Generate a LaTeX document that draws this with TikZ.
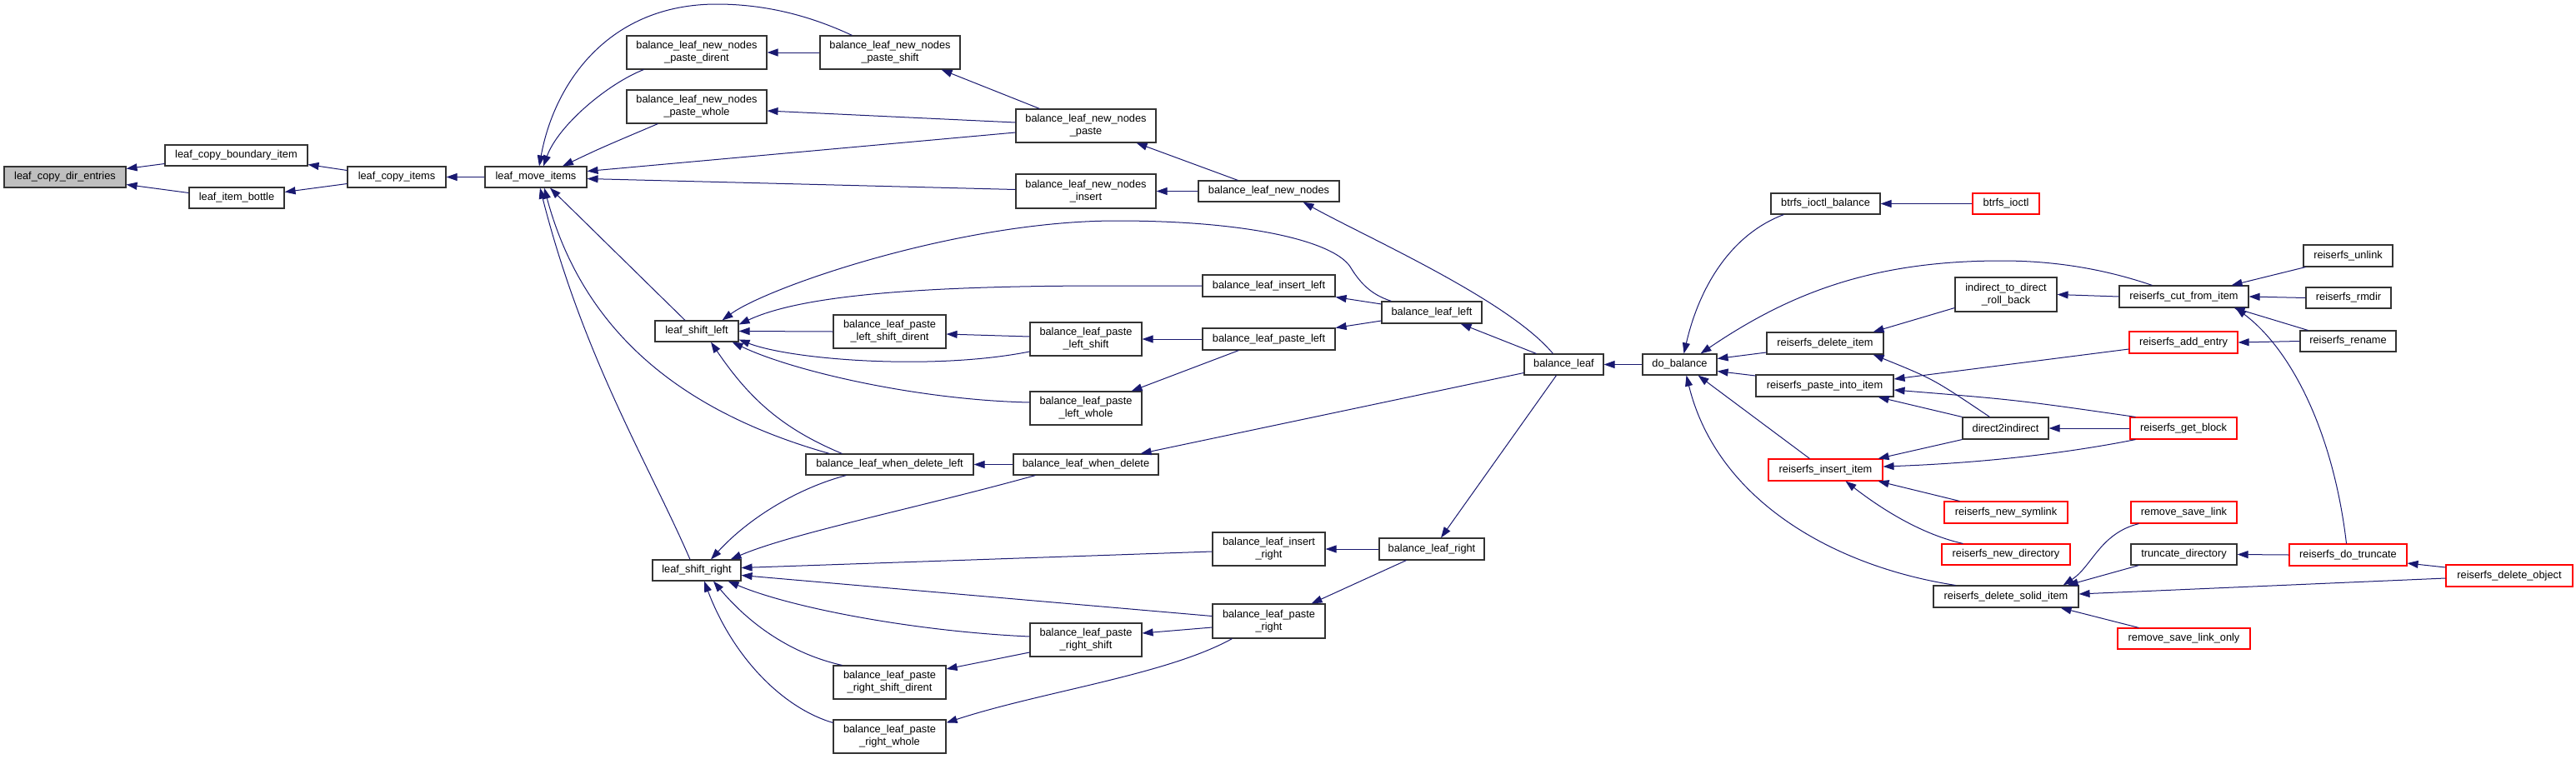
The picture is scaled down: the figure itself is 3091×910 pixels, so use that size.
\documentclass[tikz,border=0pt]{standalone}
\usepackage{fontspec}
\setmainfont{Liberation Sans}
\usetikzlibrary{arrows.meta}
\definecolor{edgecol}{RGB}{25,25,112}
\definecolor{rootfill}{RGB}{191,191,191}
\begin{document}
\begin{tikzpicture}[x=1pt,y=-1pt,
  fn/.style={draw=black!80, line width=1.1pt, fill=white, inner sep=0pt, align=center,
    font=\fontsize{12.8}{15}\selectfont},
  fnred/.style={fn, draw=red},
  wh/.style 2 args={minimum width=#1pt, minimum height=#2pt},
  edge/.style={draw=edgecol, line width=1pt, {Triangle[length=13pt,width=9pt]}-}]
\useasboundingbox (0,0) rectangle (3091,910);
% ---------- nodes ----------
\node[fn, fill=rootfill, wh={146}{25}] (lcde) at (78,212.5) {leaf\_copy\_dir\_entries};
\node[fn, wh={171}{25}] (lcbi) at (283.5,186.5) {leaf\_copy\_boundary\_item};
\node[fn, wh={114}{25}] (lib) at (284,237.5) {leaf\_item\_bottle};
\node[fn, wh={118}{25}] (lci) at (476,212.5) {leaf\_copy\_items};
\node[fn, wh={122}{25}] (lmi) at (643,212.5) {leaf\_move\_items};
\node[fn, wh={168}{40}] (bpd) at (836,63) {balance\_leaf\_new\_nodes\\\_paste\_dirent};
\node[fn, wh={168}{40}] (bps) at (1068,63) {balance\_leaf\_new\_nodes\\\_paste\_shift};
\node[fn, wh={168}{40}] (bpw) at (836,128) {balance\_leaf\_new\_nodes\\\_paste\_whole};
\node[fn, wh={168}{40}] (bp) at (1303,151) {balance\_leaf\_new\_nodes\\\_paste};
\node[fn, wh={168}{41}] (bni) at (1303,229.5) {balance\_leaf\_new\_nodes\\\_insert};
\node[fn, wh={169}{25}] (bnn) at (1522.5,229.5) {balance\_leaf\_new\_nodes};
\node[fn, wh={100}{25}] (lsl) at (836,397.5) {leaf\_shift\_left};
\node[fn, wh={135}{40}] (plsd) at (1067.5,398) {balance\_leaf\_paste\\\_left\_shift\_dirent};
\node[fn, wh={134}{40}] (pls) at (1303,407) {balance\_leaf\_paste\\\_left\_shift};
\node[fn, wh={159}{26}] (bil) at (1522.5,343) {balance\_leaf\_insert\_left};
\node[fn, wh={159}{26}] (bpl) at (1522.5,407) {balance\_leaf\_paste\_left};
\node[fn, wh={134}{40}] (plw) at (1303,490) {balance\_leaf\_paste\\\_left\_whole};
\node[fn, wh={201}{25}] (wdl) at (1067.5,557.5) {balance\_leaf\_when\_delete\_left};
\node[fn, wh={174}{25}] (wd) at (1303,557.5) {balance\_leaf\_when\_delete};
\node[fn, wh={106}{25}] (lsr) at (836,684.5) {leaf\_shift\_right};
\node[fn, wh={134}{40}] (prs) at (1303,768) {balance\_leaf\_paste\\\_right\_shift};
\node[fn, wh={135}{40}] (prsd) at (1067.5,819) {balance\_leaf\_paste\\\_right\_shift\_dirent};
\node[fn, wh={135}{40}] (prw) at (1067.5,884) {balance\_leaf\_paste\\\_right\_whole};
\node[fn, wh={135}{40}] (bir) at (1522.5,659) {balance\_leaf\_insert\\\_right};
\node[fn, wh={135}{41}] (bpr) at (1522.5,745.5) {balance\_leaf\_paste\\\_right};
\node[fn, wh={126}{26}] (blr) at (1718,659) {balance\_leaf\_right};
\node[fn, wh={120}{26}] (bll) at (1718,375) {balance\_leaf\_left};
\node[fn, wh={95}{25}] (bl) at (1876.5,437.5) {balance\_leaf};
\node[fn, wh={89}{25}] (db) at (2015.5,437.5) {do\_balance};
\node[fn, wh={131}{25}] (bib) at (2190.5,244.5) {btrfs\_ioctl\_balance};
\node[fnred, wh={80}{25}] (bi) at (2407,244.5) {btrfs\_ioctl};
\node[fn, wh={122}{41}] (itd) at (2407,353.5) {indirect\_to\_direct\\\_roll\_back};
\node[fn, wh={140}{26}] (rdi) at (2190,412) {reiserfs\_delete\_item};
\node[fn, wh={165}{26}] (rpi) at (2189.5,463) {reiserfs\_paste\_into\_item};
\node[fn, wh={103}{26}] (d2i) at (2406.5,514) {direct2indirect};
\node[fnred, wh={137}{26}] (rii) at (2190.5,564) {reiserfs\_insert\_item};
\node[fnred, wh={148}{26}] (rns) at (2407,615) {reiserfs\_new\_symlink};
\node[fnred, wh={154}{25}] (rnd) at (2407,665.5) {reiserfs\_new\_directory};
\node[fn, wh={174}{26}] (rdsi) at (2407,716) {reiserfs\_delete\_solid\_item};
\node[fn, wh={155}{26}] (rcfi) at (2620.5,356) {reiserfs\_cut\_from\_item};
\node[fn, wh={107}{26}] (rul) at (2817.5,307) {reiserfs\_unlink};
\node[fn, wh={102}{25}] (rrm) at (2818,357.5) {reiserfs\_rmdir};
\node[fn, wh={115}{25}] (rrn) at (2817.5,409.5) {reiserfs\_rename};
\node[fnred, wh={130}{26}] (rae) at (2620,411) {reiserfs\_add\_entry};
\node[fnred, wh={128}{26}] (rgb) at (2620,514) {reiserfs\_get\_block};
\node[fnred, wh={127}{26}] (rsl) at (2620.5,615) {remove\_save\_link};
\node[fn, wh={127}{25}] (td) at (2620.5,665.5) {truncate\_directory};
\node[fnred, wh={141}{26}] (rdt) at (2817.5,666) {reiserfs\_do\_truncate};
\node[fnred, wh={152}{26}] (rdo) at (3011,691) {reiserfs\_delete\_object};
\node[fnred, wh={159}{25}] (rslo) at (2620.5,766.5) {remove\_save\_link\_only};
% ---------- edges ----------
\draw[edge] ([shift={(0,-10)}]lcde.east) -- ([shift={(0,10)}]lcbi.west);
\draw[edge] ([shift={(0,9)}]lcde.east) -- ([shift={(0,-6)}]lib.west);
\draw[edge] ([shift={(0,11)}]lcbi.east) -- ([shift={(0,-8)}]lci.west);
\draw[edge] ([shift={(0,-7)}]lib.east) -- ([shift={(0,8)}]lci.west);
\draw[edge] (lci.east) -- (lmi.west);
\draw[edge] ([shift={(9,0)}]lmi.north) .. controls (670,150) and (730,100) .. ([shift={(21,0)}]bpd.south west);
\draw[edge] ([shift={(4,0)}]lmi.north) .. controls (665,100) and (730,5) .. (860,5) .. controls (930,5) and (985,25) .. ([shift={(39,0)}]bps.north west);
\draw[edge] ([shift={(32,0)}]lmi.north) .. controls (720,178) .. ([shift={(38,0)}]bpw.south west);
\draw[edge] ([shift={(0,-7)}]lmi.east) -- ([shift={(0,8)}]bp.west);
\draw[edge] ([shift={(0,2)}]lmi.east) -- ([shift={(0,-2)}]bni.west);
\draw[edge] ([shift={(17,0)}]lmi.south) -- ([shift={(-14,0)}]lsl.north);
\draw[edge] ([shift={(5,0)}]lmi.south) .. controls (700,430) and (780,560) .. ([shift={(-8,0)}]lsr.north);
\draw[edge] ([shift={(10,0)}]lmi.south) .. controls (700,400) and (820,495) .. ([shift={(29,0)}]wdl.north west);
\draw[edge] (bpd.east) -- (bps.west);
\draw[edge] ([shift={(-23,0)}]bps.south east) -- ([shift={(29,0)}]bp.north west);
\draw[edge] ([shift={(0,5)}]bpw.east) -- ([shift={(0,-4)}]bp.west);
\draw[edge] ([shift={(-24,0)}]bp.south east) -- ([shift={(48,0)}]bnn.north west);
\draw[edge] (bni.east) -- (bnn.west);
\draw[edge] ([shift={(-44,0)}]bnn.south east) .. controls (1640,285) and (1810,360) .. ([shift={(35,0)}]bl.north west);
\draw[edge] ([shift={(-20,0)}]lsl.north east) .. controls (920,345) and (1150,265) .. (1340,265) .. controls (1500,265) and (1600,290) .. (1620,320) .. controls (1635,345) and (1650,355) .. ([shift={(12,0)}]bll.north west);
\draw[edge] ([shift={(0,-8)}]lsl.east) .. controls (960,355) and (1100,343) .. (1330,343) -- (bil.west);
\draw[edge] (lsl.east) -- (plsd.west);
\draw[edge] ([shift={(0,-3)}]lsl.south east) .. controls (950,432) and (1120,445) .. ([shift={(0,15)}]pls.west);
\draw[edge] ([shift={(-8,0)}]lsl.south east) .. controls (950,445) and (1100,480) .. ([shift={(0,-7)}]plw.west);
\draw[edge] ([shift={(17,0)}]lsl.south) .. controls (900,480) and (940,515) .. ([shift={(44,0)}]wdl.north west);
\draw[edge] ([shift={(0,3)}]plsd.east) -- ([shift={(0,-3)}]pls.west);
\draw[edge] (pls.east) -- (bpl.west);
\draw[edge] ([shift={(-13,0)}]plw.north east) -- ([shift={(44,0)}]bpl.south west);
\draw[edge] (bil.south east) -- ([shift={(0,-10)}]bll.west);
\draw[edge] (bpl.north east) -- ([shift={(0,10)}]bll.west);
\draw[edge] ([shift={(-26,0)}]bll.south east) -- ([shift={(15,0)}]bl.north west);
\draw[edge] (wdl.east) -- (wd.west);
\draw[edge] ([shift={(-22,0)}]wd.north east) -- ([shift={(0,10)}]bl.west);
\draw[edge] ([shift={(17,0)}]lsr.north) .. controls (900,620) and (960,585) .. ([shift={(49,0)}]wdl.south west);
\draw[edge] ([shift={(-13,0)}]lsr.north east) .. controls (950,640) and (1100,610) .. ([shift={(27,0)}]wd.south west);
\draw[edge] ([shift={(0,-3)}]lsr.east) -- ([shift={(0,3)}]bir.west);
\draw[edge] ([shift={(0,6)}]lsr.east) -- ([shift={(0,-6)}]bpr.west);
\draw[edge] ([shift={(-16,0)}]lsr.south east) .. controls (950,730) and (1100,758) .. ([shift={(0,-4)}]prs.west);
\draw[edge] ([shift={(20,0)}]lsr.south) .. controls (900,750) and (950,785) .. ([shift={(11,0)}]prsd.north west);
\draw[edge] ([shift={(9,0)}]lsr.south) .. controls (880,790) and (940,850) .. ([shift={(0,4)}]prw.north west);
\draw[edge] ([shift={(0,-16)}]prsd.east) -- ([shift={(0,15)}]prs.west);
\draw[edge] ([shift={(0,-8)}]prs.east) -- ([shift={(0,7.5)}]bpr.west);
\draw[edge] ([shift={(0,4)}]prw.north east) .. controls (1250,830) and (1400,810) .. ([shift={(24,0)}]bpr.south west);
\draw[edge] (bir.east) -- (blr.west);
\draw[edge] ([shift={(-17,0)}]bpr.north east) -- ([shift={(33,0)}]blr.south west);
\draw[edge] ([shift={(11,0)}]blr.north) -- ([shift={(-9,0)}]bl.south);
\draw[edge] (bl.east) -- (db.west);
\draw[edge] ([shift={(5,0)}]db.north) .. controls (2040,340) and (2080,280) .. ([shift={(16,0)}]bib.south west);
\draw[edge] ([shift={(25,0)}]db.north) .. controls (2150,350) and (2250,313) .. (2402,313) .. controls (2480,313) and (2540,328) .. ([shift={(40,0)}]rcfi.north west);
\draw[edge] ([shift={(0,-7)}]db.east) -- ([shift={(0,11)}]rdi.west);
\draw[edge] ([shift={(0,8)}]db.east) -- ([shift={(0,-12)}]rpi.west);
\draw[edge] ([shift={(22,0)}]db.south) -- ([shift={(50,0)}]rii.north west);
\draw[edge] ([shift={(8,0)}]db.south) .. controls (2060,600) and (2200,680) .. ([shift={(27,0)}]rdsi.north west);
\draw[edge] (bib.east) -- (bi.west);
\draw[edge] ([shift={(-13,0)}]rdi.north east) -- ([shift={(0,16)}]itd.west);
\draw[edge] ([shift={(-13,0)}]rdi.south east) .. controls (2320,455) .. ([shift={(-19,0)}]d2i.north);
\draw[edge] ([shift={(0,-8)}]rpi.east) -- ([shift={(0,8)}]rae.west);
\draw[edge] ([shift={(-19,0)}]rpi.south east) -- (d2i.north west);
\draw[edge] ([shift={(0,5)}]rpi.east) .. controls (2420,480) .. ([shift={(7,0)}]rgb.north west);
\draw[edge] ([shift={(-6,0)}]rii.north east) -- (d2i.south west);
\draw[edge] ([shift={(0,-4)}]rii.east) .. controls (2400,555) and (2500,540) .. ([shift={(7,0)}]rgb.south west);
\draw[edge] ([shift={(-6,0)}]rii.south east) -- ([shift={(19,0)}]rns.north west);
\draw[edge] ([shift={(24,0)}]rii.south) .. controls (2250,605) and (2300,640) .. ([shift={(26,0)}]rnd.north west);
\draw[edge] (itd.east) -- (rcfi.west);
\draw[edge] (d2i.east) -- (rgb.west);
\draw[edge] ([shift={(-21,0)}]rcfi.north east) -- ([shift={(3,0)}]rul.south west);
\draw[edge] (rcfi.east) -- (rrm.west);
\draw[edge] ([shift={(-18,0)}]rcfi.south east) -- ([shift={(10,0)}]rrn.north west);
\draw[edge] ([shift={(-16,0)}]rcfi.south east) .. controls (2750,420) and (2800,520) .. ([shift={(-2,0)}]rdt.north);
\draw[edge] (rae.east) -- (rrn.west);
\draw[edge] ([shift={(-19,0)}]rdsi.north east) .. controls (2510,680) and (2520,640) .. ([shift={(10,0)}]rsl.south west);
\draw[edge] ([shift={(-14,0)}]rdsi.north east) -- ([shift={(10,0)}]td.south west);
\draw[edge] ([shift={(-22,0)}]rdsi.south east) -- ([shift={(26,0)}]rslo.north west);
\draw[edge] ([shift={(0,-3)}]rdsi.east) -- ([shift={(0,3)}]rdo.west);
\draw[edge] (td.east) -- (rdt.west);
\draw[edge] ([shift={(0,10)}]rdt.east) -- ([shift={(0,-10)}]rdo.west);
\end{tikzpicture}
\end{document}
